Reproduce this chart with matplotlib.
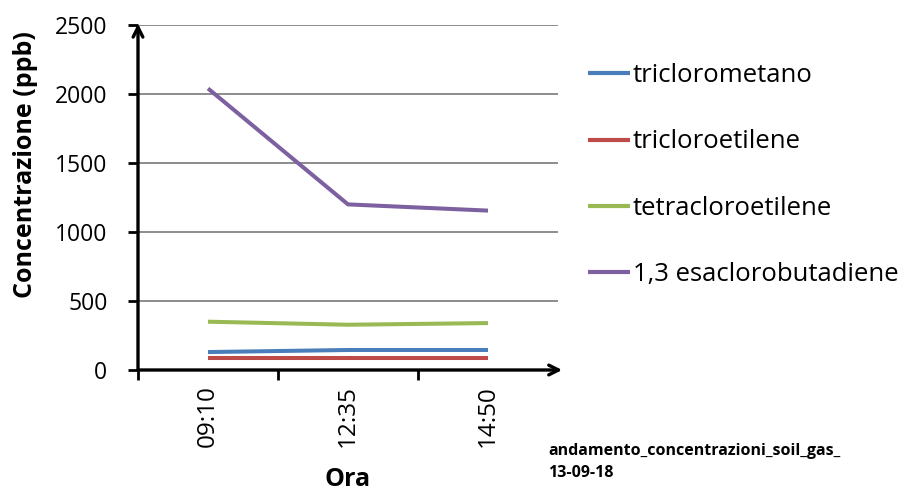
import matplotlib.pyplot as plt
import matplotlib as mpl

plt.rcParams['font.family'] = ['Open Sans', 'DejaVu Sans']

categories = ["09:10", "12:35", "14:50"]
series_names = ["triclorometano", "tricloroetilene", "tetracloroetilene", "1,3 esaclorobutadiene"]
triclorometano = [130, 145, 145]
tricloroetilene = [87, 87, 87]
tetracloroetilene = [350, 328, 340]
esaclorobutadiene = [2040, 1200, 1155]
colors = ["#4A7EBB", "#BE4B48", "#98B954", "#7D60A0"]
yticks = [0, 500, 1000, 1500, 2000, 2500]

fig = plt.figure(figsize=(9.06, 4.92), dpi=100)
ax = fig.add_axes([138/906, 1-370/492, 420/906, 345/492])

x = list(range(len(categories)))
for vals, name, c in zip([triclorometano, tricloroetilene, tetracloroetilene, esaclorobutadiene], series_names, colors):
    ax.plot(x, vals, color=c, lw=2.9, label=name, solid_capstyle='butt')

ax.set_xlim(-0.5, 2.5)
ax.set_ylim(0, 2500)
ax.set_yticks(yticks)
ax.set_yticklabels([str(v) for v in yticks], fontsize=16.5)
ax.yaxis.grid(True, color="#8C8C8C", lw=1.4)
ax.set_axisbelow(True)
for s in ax.spines.values():
    s.set_visible(False)

ax.set_xticks(x)
ax.set_xticklabels(categories, rotation=90, fontsize=17.5)
ax.tick_params(axis='x', which='major', length=0, pad=11)
ax.set_xticks([-0.5, 0.5, 1.5], minor=True)
ax.tick_params(axis='x', which='minor', length=7, width=2, direction='out')
ax.tick_params(axis='y', length=7, width=2, direction='out', pad=15)

# arrow axes
ax.annotate('', xy=(2.53, 0), xytext=(-0.5, 0), xycoords='data',
            arrowprops=dict(arrowstyle='->,head_length=0.7,head_width=0.35', lw=2.4, color='black', shrinkA=0, shrinkB=0),
            annotation_clip=False)
ax.annotate('', xy=(-0.5, 2510), xytext=(-0.5, 0), xycoords='data',
            arrowprops=dict(arrowstyle='->,head_length=0.7,head_width=0.35', lw=2.4, color='black', shrinkA=0, shrinkB=0),
            annotation_clip=False)

fig.text(26/906, 1-165/492, "Concentrazione (ppb)", rotation=90, fontsize=18, fontweight='bold',
         ha='center', va='center')
fig.text(348/906, 1-480/492, "Ora", fontsize=18, fontweight='bold', ha='center', va='center')

fig.text(548/906, 1-462/492, "andamento_concentrazioni_soil_gas_\n13-09-18", fontsize=11.5,
         fontweight='bold', ha='left', va='center', linespacing=1.45)

leg = fig.legend(loc='upper left', bbox_to_anchor=(565/906, 1-40/492), frameon=False,
                 fontsize=18.5, handlelength=1.63, handletextpad=0.1, labelspacing=1.61)
for line in leg.get_lines():
    line.set_linewidth(3)

fig.savefig("out.png", dpi=100)
